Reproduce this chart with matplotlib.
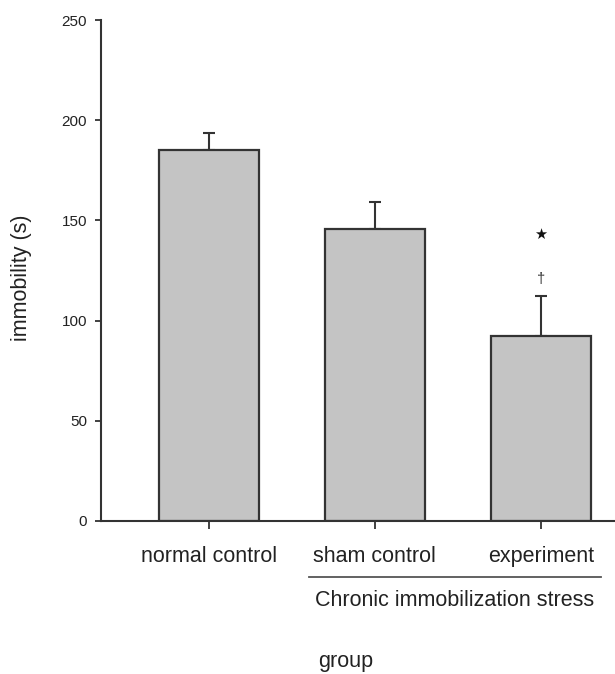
import numpy as np
import matplotlib
matplotlib.use('Agg')
import matplotlib.pyplot as plt

plt.rcParams['font.family'] = ['Liberation Sans', 'DejaVu Sans']

# data
groups = ['normal control', 'sham control', 'experiment']
immobility = [185, 145.5, 92.5]
sem = [8.5, 13.5, 20]
yticks = [0, 50, 100, 150, 200, 250]

W, H = 615, 674
fig = plt.figure(figsize=(W/100, H/100), dpi=100)

# axes box in pixels: left 101, right 615, top 20 (y=250), bottom 521 (y=0)
ax = fig.add_axes([101/W, 1 - 521/H, (615 - 101)/W, (521 - 20)/H])

x = np.arange(len(groups))
ax.bar(x, immobility, width=0.6, color='#c4c4c4', edgecolor='#333333',
       linewidth=1.6, zorder=2)
ax.errorbar(x, immobility, yerr=[np.zeros(len(sem)), sem], fmt='none',
            ecolor='#333333', elinewidth=1.5, capsize=4.5, capthick=1.5,
            zorder=1)

# significance marks above the experiment bar
ax.text(2, 143, '\u2605', ha='center', va='center', fontsize=10.5,
        family='DejaVu Sans', color='#111111')
ax.text(2, 121, '\u2020', ha='center', va='center', fontsize=10.5,
        color='#333333')

ax.set_xlim(-0.65, 2.446)
ax.set_ylim(0, 250)
ax.set_yticks(yticks)
ax.set_xticks(x)
ax.set_xticklabels(groups, fontsize=15.5, color='#222222')
ax.tick_params(axis='y', labelsize=11, length=4, width=1.3, pad=6,
               colors='#333333', labelcolor='#222222')
ax.tick_params(axis='x', length=6, width=1.3, pad=12, colors='#333333',
               labelcolor='#222222')

for side in ['top', 'right']:
    ax.spines[side].set_visible(False)
for side in ['left', 'bottom']:
    ax.spines[side].set_linewidth(1.5)
    ax.spines[side].set_color('#333333')

# bracket line and label for the stressed groups
fig.add_artist(plt.Line2D([309/W, 601/W], [1 - 577/H, 1 - 577/H],
                          color='#555555', linewidth=1.3))
fig.text(455/W, 1 - 600/H, 'Chronic immobilization stress', ha='center',
         va='center', fontsize=15.5, color='#222222')
fig.text(346/W, 1 - 661/H, 'group', ha='center', va='center',
         fontsize=15.5, color='#222222')
fig.text(22/W, 1 - 278/H, 'immobility (s)', ha='center', va='center',
         rotation=90, fontsize=15.5, color='#222222')

fig.savefig('out.png', dpi=100)
